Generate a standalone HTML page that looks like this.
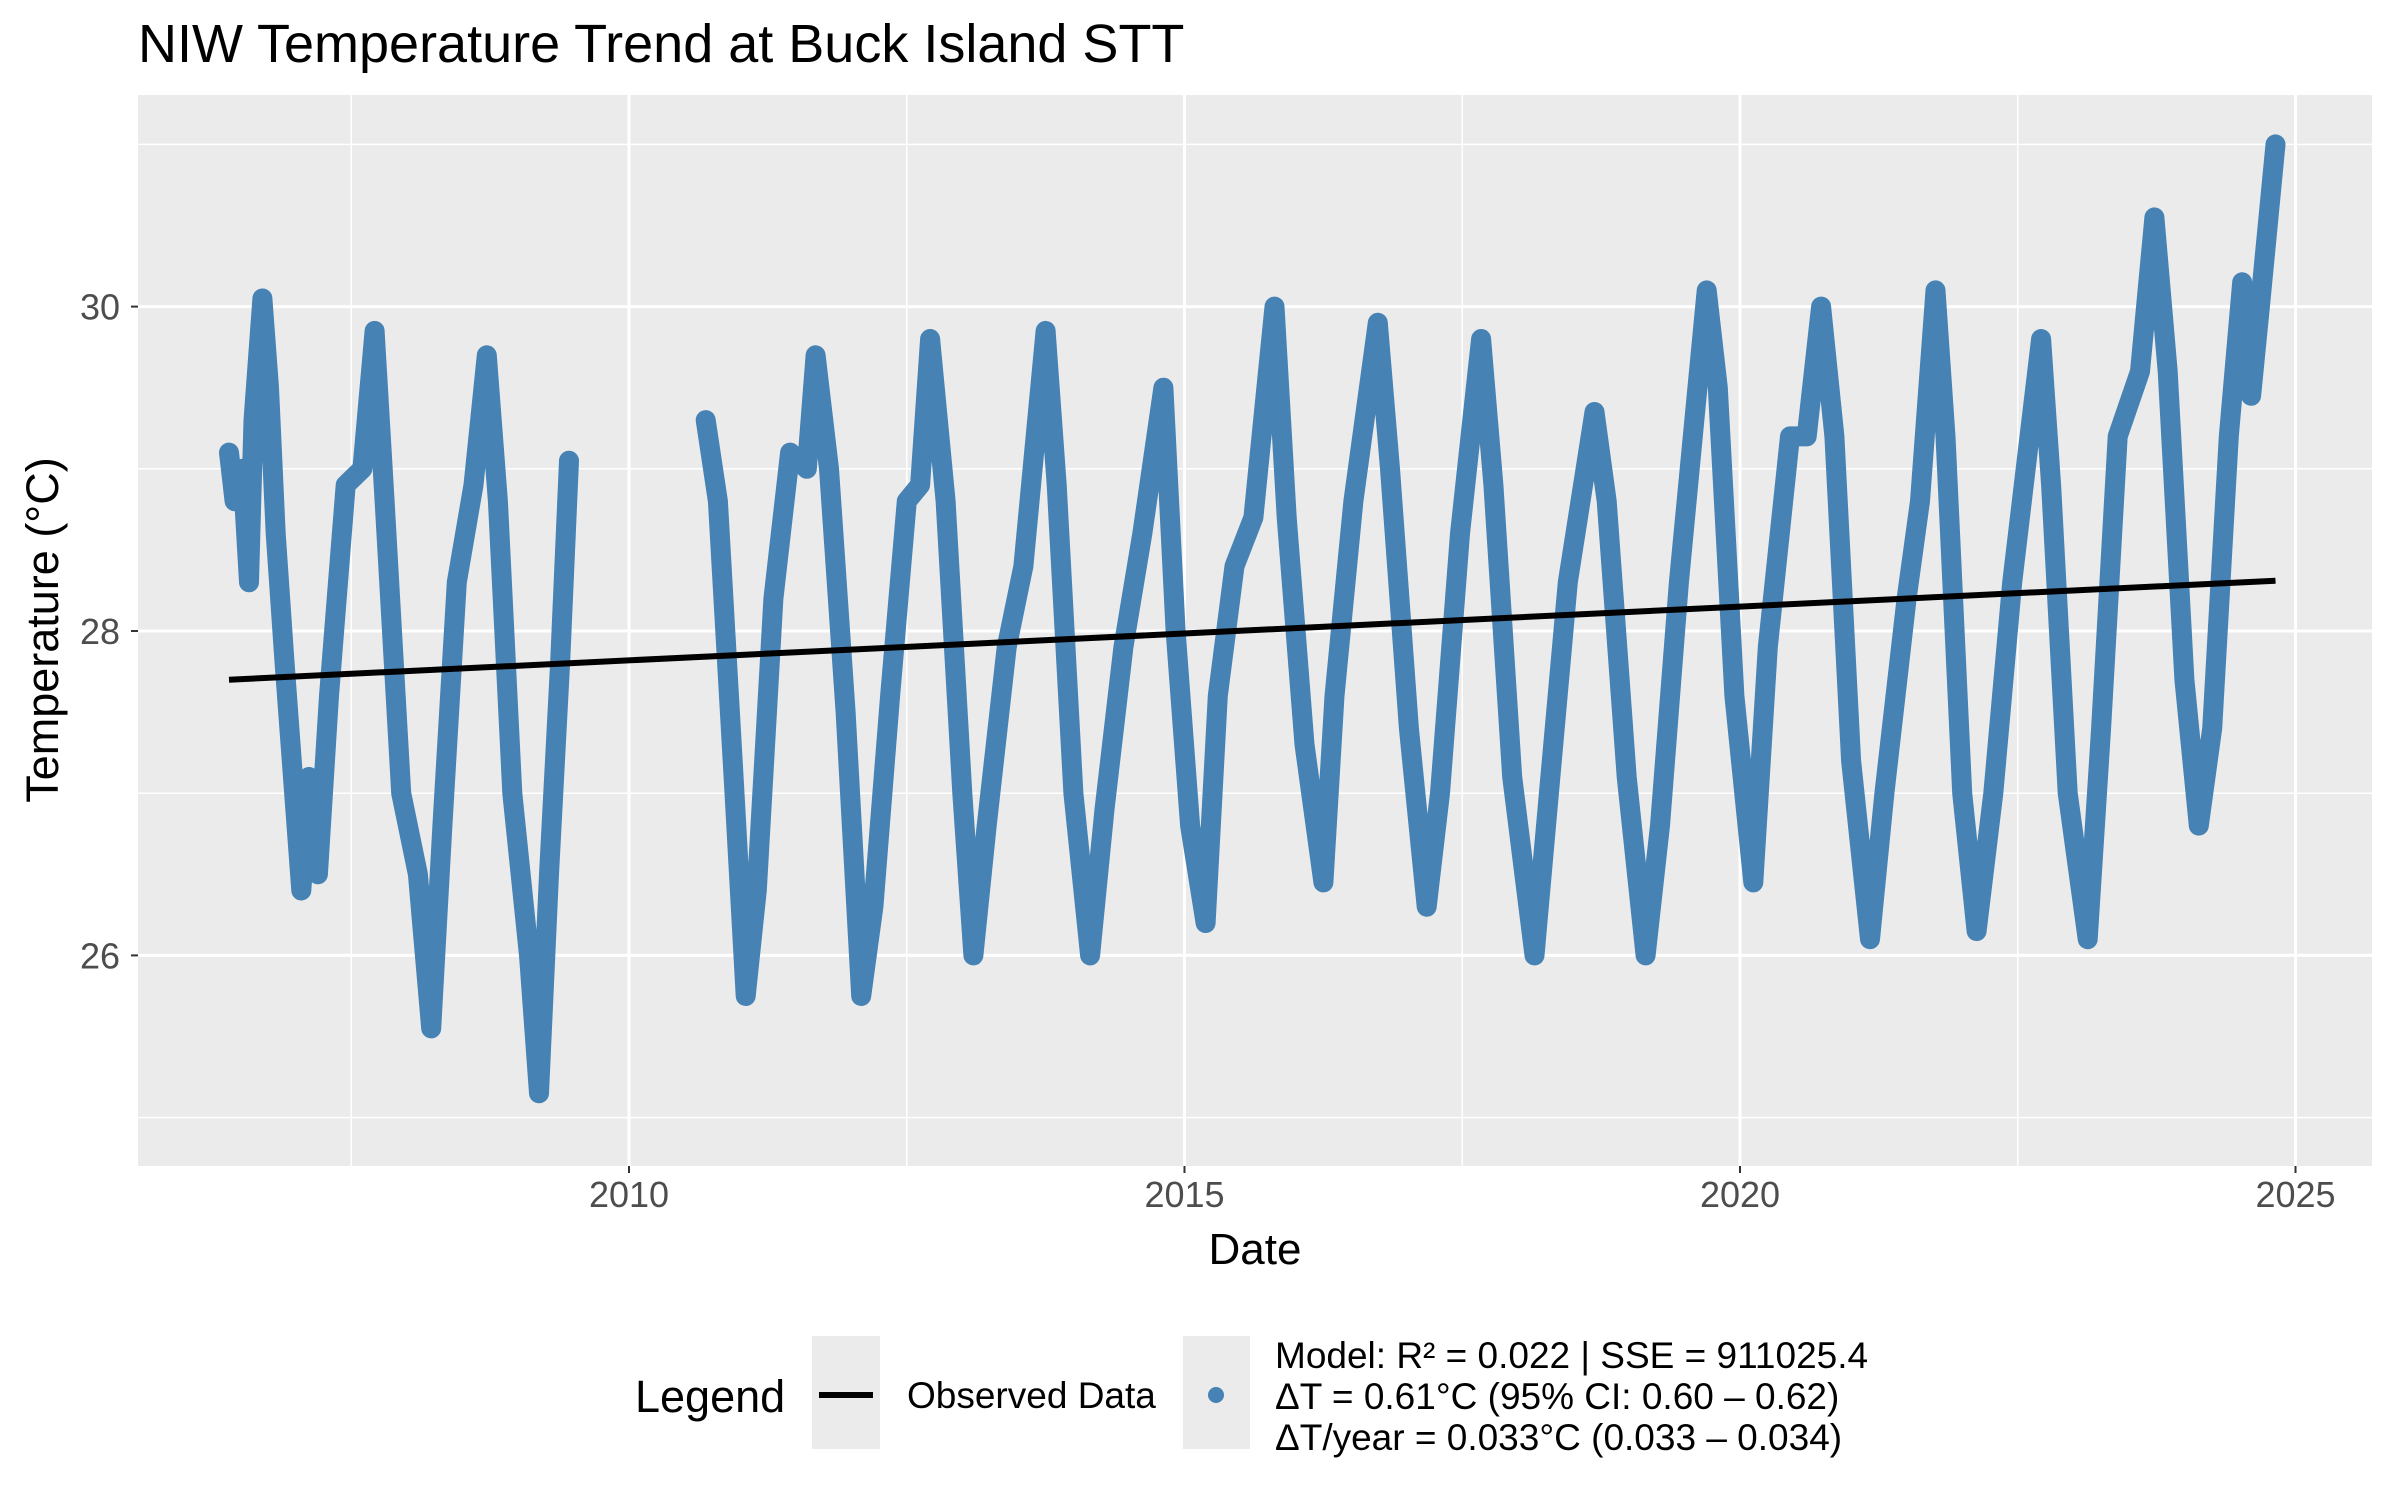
<!DOCTYPE html>
<html><head><meta charset="utf-8"><style>
html,body{margin:0;padding:0;background:#fff}
svg{display:block;font-family:"Liberation Sans",Arial,sans-serif}
</style></head><body>
<svg id="chart" width="2400" height="1500" viewBox="0 0 2400 1500">
<text x="138" y="62" font-size="54" fill="#000">NIW Temperature Trend at Buck Island STT</text>
<rect x="138" y="95" width="2234" height="1071" fill="#ebebeb"/>
<g id="grid"></g>
<g id="series"></g>
<g id="axes"></g>
<text x="1255" y="1264" font-size="44" text-anchor="middle">Date</text>
<text transform="translate(58,630) rotate(-90)" font-size="45" text-anchor="middle">Temperature (°C)</text>
<g>
<text x="635" y="1412" font-size="45">Legend</text>
<rect x="812" y="1336" width="68" height="113" fill="#ebebeb"/>
<line x1="819" y1="1395" x2="873" y2="1395" stroke="#000" stroke-width="6"/>
<text x="907" y="1408" font-size="37">Observed Data</text>
<rect x="1183" y="1336" width="67" height="113" fill="#ebebeb"/>
<circle cx="1216" cy="1395" r="8" fill="#4682b4"/>
<text x="1275" y="1368" font-size="37">Model: R² = 0.022 | SSE = 911025.4</text>
<text x="1275" y="1409" font-size="37">ΔT = 0.61°C (95% CI: 0.60 – 0.62)</text>
<text x="1275" y="1450" font-size="37">ΔT/year = 0.033°C (0.033 – 0.034)</text>
</g>
</svg>
<script>
const segA_years=[2006.40,2006.45,2006.52,2006.58,2006.62,2006.70,2006.76,2006.82,2006.90,2007.05,2007.12,2007.20,2007.30,2007.45,2007.60,2007.71,2007.80,2007.95,2008.10,2008.22,2008.32,2008.45,2008.60,2008.72,2008.82,2008.95,2009.10,2009.19,2009.28,2009.38,2009.46];
const segA_temps=[29.1,28.8,29.0,28.3,29.3,30.05,29.5,28.6,27.8,26.4,27.1,26.5,27.6,28.9,29.0,29.85,28.8,27.0,26.5,25.55,26.8,28.3,28.9,29.7,28.8,27.0,26.0,25.15,26.5,27.8,29.05];
const segB_years=[2010.69,2010.80,2010.95,2011.05,2011.15,2011.30,2011.45,2011.60,2011.68,2011.80,2011.95,2012.09,2012.20,2012.35,2012.50,2012.62,2012.71,2012.85,2013.00,2013.10,2013.22,2013.40,2013.55,2013.75,2013.85,2014.00,2014.15,2014.28,2014.45,2014.62,2014.81,2014.92,2015.05,2015.19,2015.30,2015.45,2015.62,2015.81,2015.92,2016.08,2016.25,2016.35,2016.52,2016.74,2016.85,2017.02,2017.18,2017.30,2017.48,2017.67,2017.78,2017.95,2018.15,2018.28,2018.45,2018.69,2018.80,2018.98,2019.15,2019.28,2019.45,2019.70,2019.80,2019.95,2020.12,2020.25,2020.45,2020.60,2020.73,2020.85,2021.00,2021.17,2021.30,2021.50,2021.62,2021.76,2021.85,2022.00,2022.13,2022.28,2022.45,2022.71,2022.80,2022.95,2023.13,2023.25,2023.40,2023.60,2023.73,2023.85,2024.00,2024.13,2024.25,2024.40,2024.52,2024.60,2024.68,2024.82];
const segB_temps=[29.3,28.8,27.0,25.75,26.4,28.2,29.1,29.0,29.7,29.0,27.5,25.75,26.3,27.6,28.8,28.9,29.8,28.8,27.0,26.0,26.8,27.9,28.4,29.85,28.9,27.0,26.0,26.9,27.9,28.6,29.5,28.0,26.8,26.2,27.6,28.4,28.7,30.0,28.7,27.3,26.45,27.6,28.8,29.9,29.0,27.4,26.3,27.0,28.6,29.8,28.9,27.1,26.0,27.0,28.3,29.35,28.8,27.1,26.0,26.8,28.3,30.1,29.5,27.6,26.45,27.9,29.2,29.2,30.0,29.2,27.2,26.1,27.0,28.2,28.8,30.1,29.2,27.0,26.15,27.0,28.3,29.8,28.9,27.0,26.1,27.4,29.2,29.6,30.55,29.6,27.7,26.8,27.4,29.2,30.15,29.45,30.0,31.0];
const trendYears=[2006.40,2024.82];
const trendTemps=[27.70,28.31];
const yTicks=[26,28,30];
const yMinor=[25,27,29,31];
const xTicks=[2010,2015,2020,2025];
const xMinor=[2007.5,2012.5,2017.5,2022.5];

const NS="http://www.w3.org/2000/svg";
function xs(y){return 629+(y-2010)*111.1;}
function ys(t){return 631-(t-28)*162.2;}
const grid=document.getElementById('grid'),series=document.getElementById('series'),axes=document.getElementById('axes');
function mk(tag,attrs,parent){const e=document.createElementNS(NS,tag);for(const k in attrs)e.setAttribute(k,attrs[k]);parent.appendChild(e);return e;}
yMinor.forEach(v=>{const l=mk('line',{x1:138,x2:2372,y1:ys(v),y2:ys(v),stroke:'#fff','stroke-width':1.5},grid);

});
xMinor.forEach(v=>{const l=mk('line',{x1:xs(v),x2:xs(v),y1:95,y2:1166,stroke:'#fff','stroke-width':1.5},grid);

});
yTicks.forEach(v=>{const l=mk('line',{x1:138,x2:2372,y1:ys(v),y2:ys(v),stroke:'#fff','stroke-width':3},grid);


mk('line',{x1:131,x2:138,y1:ys(v),y2:ys(v),stroke:'#333','stroke-width':2},axes);
const t=mk('text',{x:120,y:ys(v)+13,'font-size':36,fill:'#4d4d4d','text-anchor':'end'},axes);t.textContent=v;

});
xTicks.forEach(v=>{const l=mk('line',{x1:xs(v),x2:xs(v),y1:95,y2:1166,stroke:'#fff','stroke-width':3},grid);


mk('line',{x1:xs(v),x2:xs(v),y1:1166,y2:1173,stroke:'#333','stroke-width':2},axes);
const t=mk('text',{x:xs(v),y:1207,'font-size':36,fill:'#4d4d4d','text-anchor':'middle'},axes);t.textContent=v;

});
function path(yrs,tmp){return yrs.map((y,i)=>(i?'L':'M')+xs(y).toFixed(1)+' '+ys(tmp[i]).toFixed(1)).join(' ');}
[[segA_years,segA_temps,'observed-series-2006-2009'],[segB_years,segB_temps,'observed-series-2010-2024']].forEach(s=>{
const p=mk('path',{d:path(s[0],s[1]),fill:'none',stroke:'#4682b4','stroke-width':20,'stroke-linejoin':'round','stroke-linecap':'round'},series);

});
const tl=mk('path',{d:path(trendYears,trendTemps),stroke:'#000','stroke-width':6,fill:'none'},series);


</script>
</body></html>
